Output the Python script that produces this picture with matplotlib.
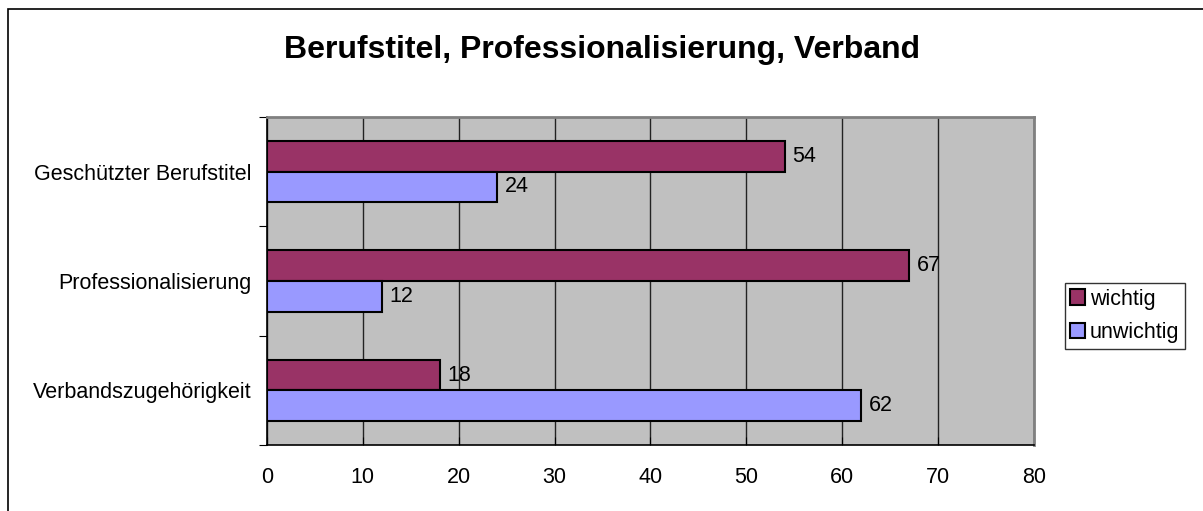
import matplotlib.pyplot as plt
import matplotlib.patches as mpatches
import numpy as np

plt.rcParams['font.family'] = ['Liberation Sans', 'DejaVu Sans']

categories = ["Geschützter Berufstitel", "Professionalisierung", "Verbandszugehörigkeit"]
wichtig = [54, 67, 18]
unwichtig = [24, 12, 62]
series_names = ["wichtig", "unwichtig"]
x_ticks = [0, 10, 20, 30, 40, 50, 60, 70, 80]

fig = plt.figure(figsize=(12.03, 5.11), dpi=100)

# outer chart border (only top/left visible in the original)
fig.patches.append(mpatches.Rectangle((8 / 1203, -0.1), 1.2, 1 - 9 / 511 + 0.1,
                                      transform=fig.transFigure, fill=False,
                                      edgecolor="black", linewidth=1.2))

ax = fig.add_axes([267 / 1203, 1 - 445 / 511, (1034 - 267) / 1203, (445 - 117) / 511])
ax.set_facecolor("#C0C0C0")

y = np.arange(len(categories))[::-1].astype(float)
h = 0.28
b1 = ax.barh(y + h / 2, wichtig, height=h, color="#993366", edgecolor="black", linewidth=1.5, zorder=3)
b2 = ax.barh(y - h / 2, unwichtig, height=h, color="#9999FF", edgecolor="black", linewidth=1.5, zorder=3)

for bars, vals in [(b1, wichtig), (b2, unwichtig)]:
    for bar, v in zip(bars, vals):
        ax.annotate(str(v), (v, bar.get_y() + bar.get_height() / 2),
                    xytext=(5.5, 0), textcoords="offset points",
                    va="center", ha="left", fontsize=15.5)

ax.set_xlim(0, 80)
ax.set_ylim(-0.5, 2.5)
ax.set_xticks(x_ticks)
ax.set_xticklabels([str(t) for t in x_ticks], fontsize=15.5)
ax.set_yticks([-0.5, 0.5, 1.5, 2.5])
ax.set_yticklabels([])
ax.set_yticks(y, minor=True)
ax.set_yticklabels(categories, minor=True, fontsize=15.5)
ax.tick_params(axis="y", which="minor", length=0, pad=11)
ax.tick_params(axis="y", which="major", length=6, direction="out")
ax.tick_params(axis="x", length=6, direction="in", pad=16)
ax.xaxis.grid(True, color="#222222", linewidth=1, zorder=0)
ax.set_axisbelow(True)

for side in ["top", "right"]:
    ax.spines[side].set_color("#808080")
    ax.spines[side].set_linewidth(2)
for side in ["left", "bottom"]:
    ax.spines[side].set_color("black")
    ax.spines[side].set_linewidth(1.2)

fig.text(0.5, 1 - 50 / 511, "Berufstitel, Professionalisierung, Verband",
         ha="center", va="center", fontsize=23, fontweight="bold")

handles = [mpatches.Patch(facecolor="#993366", edgecolor="black", linewidth=1.5),
           mpatches.Patch(facecolor="#9999FF", edgecolor="black", linewidth=1.5)]
leg = fig.legend(handles, series_names, loc="center left",
                 bbox_to_anchor=(1065 / 1203, 1 - 316 / 511), fontsize=15.5,
                 frameon=True, fancybox=False, edgecolor="black",
                 handlelength=0.7, handleheight=0.7, handletextpad=0.2,
                 borderpad=0.25, labelspacing=0.6, borderaxespad=0)
leg.get_frame().set_linewidth(1)

fig.savefig("out.png", dpi=100)
